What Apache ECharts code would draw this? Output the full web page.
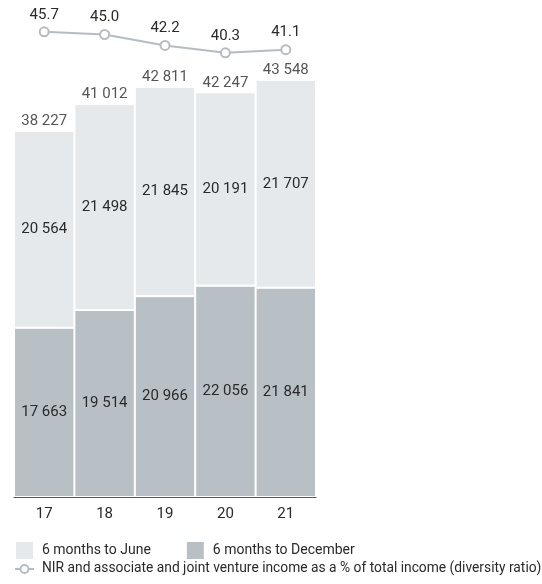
<!DOCTYPE html>
<html>
<head>
<meta charset="utf-8">
<script src="https://cdn.jsdelivr.net/npm/echarts@6/dist/echarts.min.js"></script>
<style>
  html, body { margin: 0; padding: 0; background: #fff; }
  #chart { width: 542px; height: 584px; }
</style>
</head>
<body>
<div id="chart"></div>
<script>
// Non-interest revenue by half-year, R million
const years = ['17', '18', '19', '20', '21'];
const firstHalf = [20564, 21498, 21845, 20191, 21707];   // 6 months to June
const secondHalf = [17663, 19514, 20966, 22056, 21841];  // 6 months to December
const diversityRatio = [45.7, 45.0, 42.2, 40.3, 41.1];   // % of total income

const totals = years.map((_, i) => firstHalf[i] + secondHalf[i]);

const FONT = 'Roboto, "Liberation Sans", Arial, sans-serif';
const TEXT = '#2a2a2a';
const fmt = v => String(v).replace(/\B(?=(\d{3})+(?!\d))/g, ' ');

const chart = echarts.init(document.getElementById('chart'), null, { renderer: 'canvas' });

chart.setOption({
  animation: false,
  textStyle: { fontFamily: FONT, color: TEXT },
  grid: [
    { left: 14, width: 302, top: 18, height: 479 },
    { left: 14, width: 302, top: 15, height: 78 }
  ],
  xAxis: [
    {
      type: 'category', gridIndex: 0, data: years,
      axisLine: { lineStyle: { color: '#555', width: 1 } },
      axisTick: { show: false },
      axisLabel: { fontFamily: FONT, fontSize: 15, color: TEXT, margin: 10 }
    },
    {
      type: 'category', gridIndex: 1, data: years, show: false
    }
  ],
  yAxis: [
    { type: 'value', gridIndex: 0, min: 0, max: 50000, show: false },
    { type: 'value', gridIndex: 1, min: 30, max: 50, show: false }
  ],
  legend: [
    {
      left: 14, top: 540, padding: 0, itemWidth: 19, itemHeight: 19, itemGap: 34,
      icon: 'rect',
      data: ['6 months to June', '6 months to December'],
      textStyle: { fontFamily: FONT, fontSize: 14, color: TEXT, padding: [0, 0, 0, 3] }
    },
    {
      left: 14, top: 562, padding: 0, itemWidth: 19, itemHeight: 10,
      data: ['NIR and associate and joint venture income as a % of total income (diversity ratio)'],
      textStyle: { fontFamily: FONT, fontSize: 13.8, color: TEXT, padding: [0, 0, 0, 3] }
    }
  ],
  series: [
    {
      name: '6 months to December', type: 'bar', stack: 'nir',
      xAxisIndex: 0, yAxisIndex: 0,
      data: secondHalf, barCategoryGap: 0,
      itemStyle: { color: '#b8bfc5', borderColor: '#fff', borderWidth: 1 },
      label: { show: true, position: 'inside', formatter: p => fmt(p.value),
               fontFamily: FONT, fontSize: 15, color: TEXT }
    },
    {
      name: '6 months to June', type: 'bar', stack: 'nir',
      xAxisIndex: 0, yAxisIndex: 0,
      data: firstHalf, barCategoryGap: 0,
      itemStyle: { color: '#e6e9ec', borderColor: '#fff', borderWidth: 1 },
      label: { show: true, position: 'inside', formatter: p => fmt(p.value),
               fontFamily: FONT, fontSize: 15, color: TEXT }
    },
    {
      name: 'total', type: 'scatter', xAxisIndex: 0, yAxisIndex: 0,
      data: totals, symbolSize: 0, silent: true,
      label: { show: true, position: 'top', distance: 2, formatter: p => fmt(p.value),
               fontFamily: FONT, fontSize: 15, color: TEXT }
    },
    {
      name: 'NIR and associate and joint venture income as a % of total income (diversity ratio)',
      type: 'line', xAxisIndex: 1, yAxisIndex: 1,
      data: diversityRatio,
      symbol: 'circle', symbolSize: 9, showAllSymbol: true,
      lineStyle: { color: '#b5bcc3', width: 2 },
      itemStyle: { color: '#fff', borderColor: '#b5bcc3', borderWidth: 2 },
      label: { show: true, position: 'top', distance: 4, formatter: p => p.value.toFixed(1),
               fontFamily: FONT, fontSize: 15, color: TEXT }
    }
  ]
});
</script>
</body>
</html>
